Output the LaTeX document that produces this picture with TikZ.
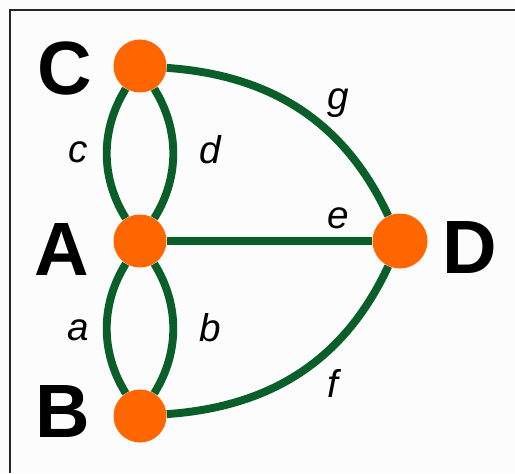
\documentclass[tikz,border=0pt]{standalone}
\usepackage{fontspec}
\setmainfont{Liberation Sans}
\usepackage{tikz}
\usetikzlibrary{positioning}
\definecolor{bridgegreen}{RGB}{10,94,42}
\definecolor{landorange}{RGB}{255,102,0}
\definecolor{paper}{RGB}{252,252,252}

\begin{document}
\begin{tikzpicture}[
  land/.style={circle,fill=landorange,minimum size=1.06cm,inner sep=0pt},
  bridge/.style={draw=bridgegreen,line width=4.5pt},
  landname/.style={font=\fontsize{43}{43}\selectfont\bfseries,inner sep=0pt},
  bridgename/.style={font=\fontsize{22}{22}\selectfont\itshape,inner sep=0pt}]
\useasboundingbox[fill=paper] (0,0) rectangle (10.3,9.46);
\draw[line width=1.3pt,black!85] (0.2,0) -- (0.2,9.26) -- (10.3,9.26);
\node[land] (C) at (2.8,8.14) {};
\node[land] (A) at (2.8,4.64) {};
\node[land] (B) at (2.8,1.14) {};
\node[land,minimum size=1.1cm] (D) at (8.0,4.64) {};
\node[landname] (lC) at (1.3,8.1) {C};
\node[landname] (lA) at (1.24,4.46) {A};
\node[landname] (lB) at (1.26,1.22) {B};
\node[landname] (lD) at (9.4,4.5) {D};
% bridges
\draw[bridge] (C) to[out=-122,in=122,looseness=0.95] (A);
\draw[bridge] (C) to[out=-58,in=58,looseness=0.95] (A);
\draw[bridge] (A) to[out=-122,in=122,looseness=0.95] (B);
\draw[bridge] (A) to[out=-58,in=58,looseness=0.95] (B);
\draw[bridge] (A) -- (D);
\draw[bridge] (C) to[out=-4,in=115] (D);
\draw[bridge] (B) to[out=4,in=-115] (D);
\node[bridgename] (bc) at (1.56,6.42) {c};
\node[bridgename] (bd) at (4.2,6.46) {d};
\node[bridgename] (bg) at (6.76,7.4) {g};
\node[bridgename] (be) at (6.76,5.1) {e};
\node[bridgename] (ba) at (1.56,2.86) {a};
\node[bridgename] (bb) at (4.2,2.9) {b};
\node[bridgename] (bf) at (6.66,1.8) {f};
\end{tikzpicture}
\end{document}
